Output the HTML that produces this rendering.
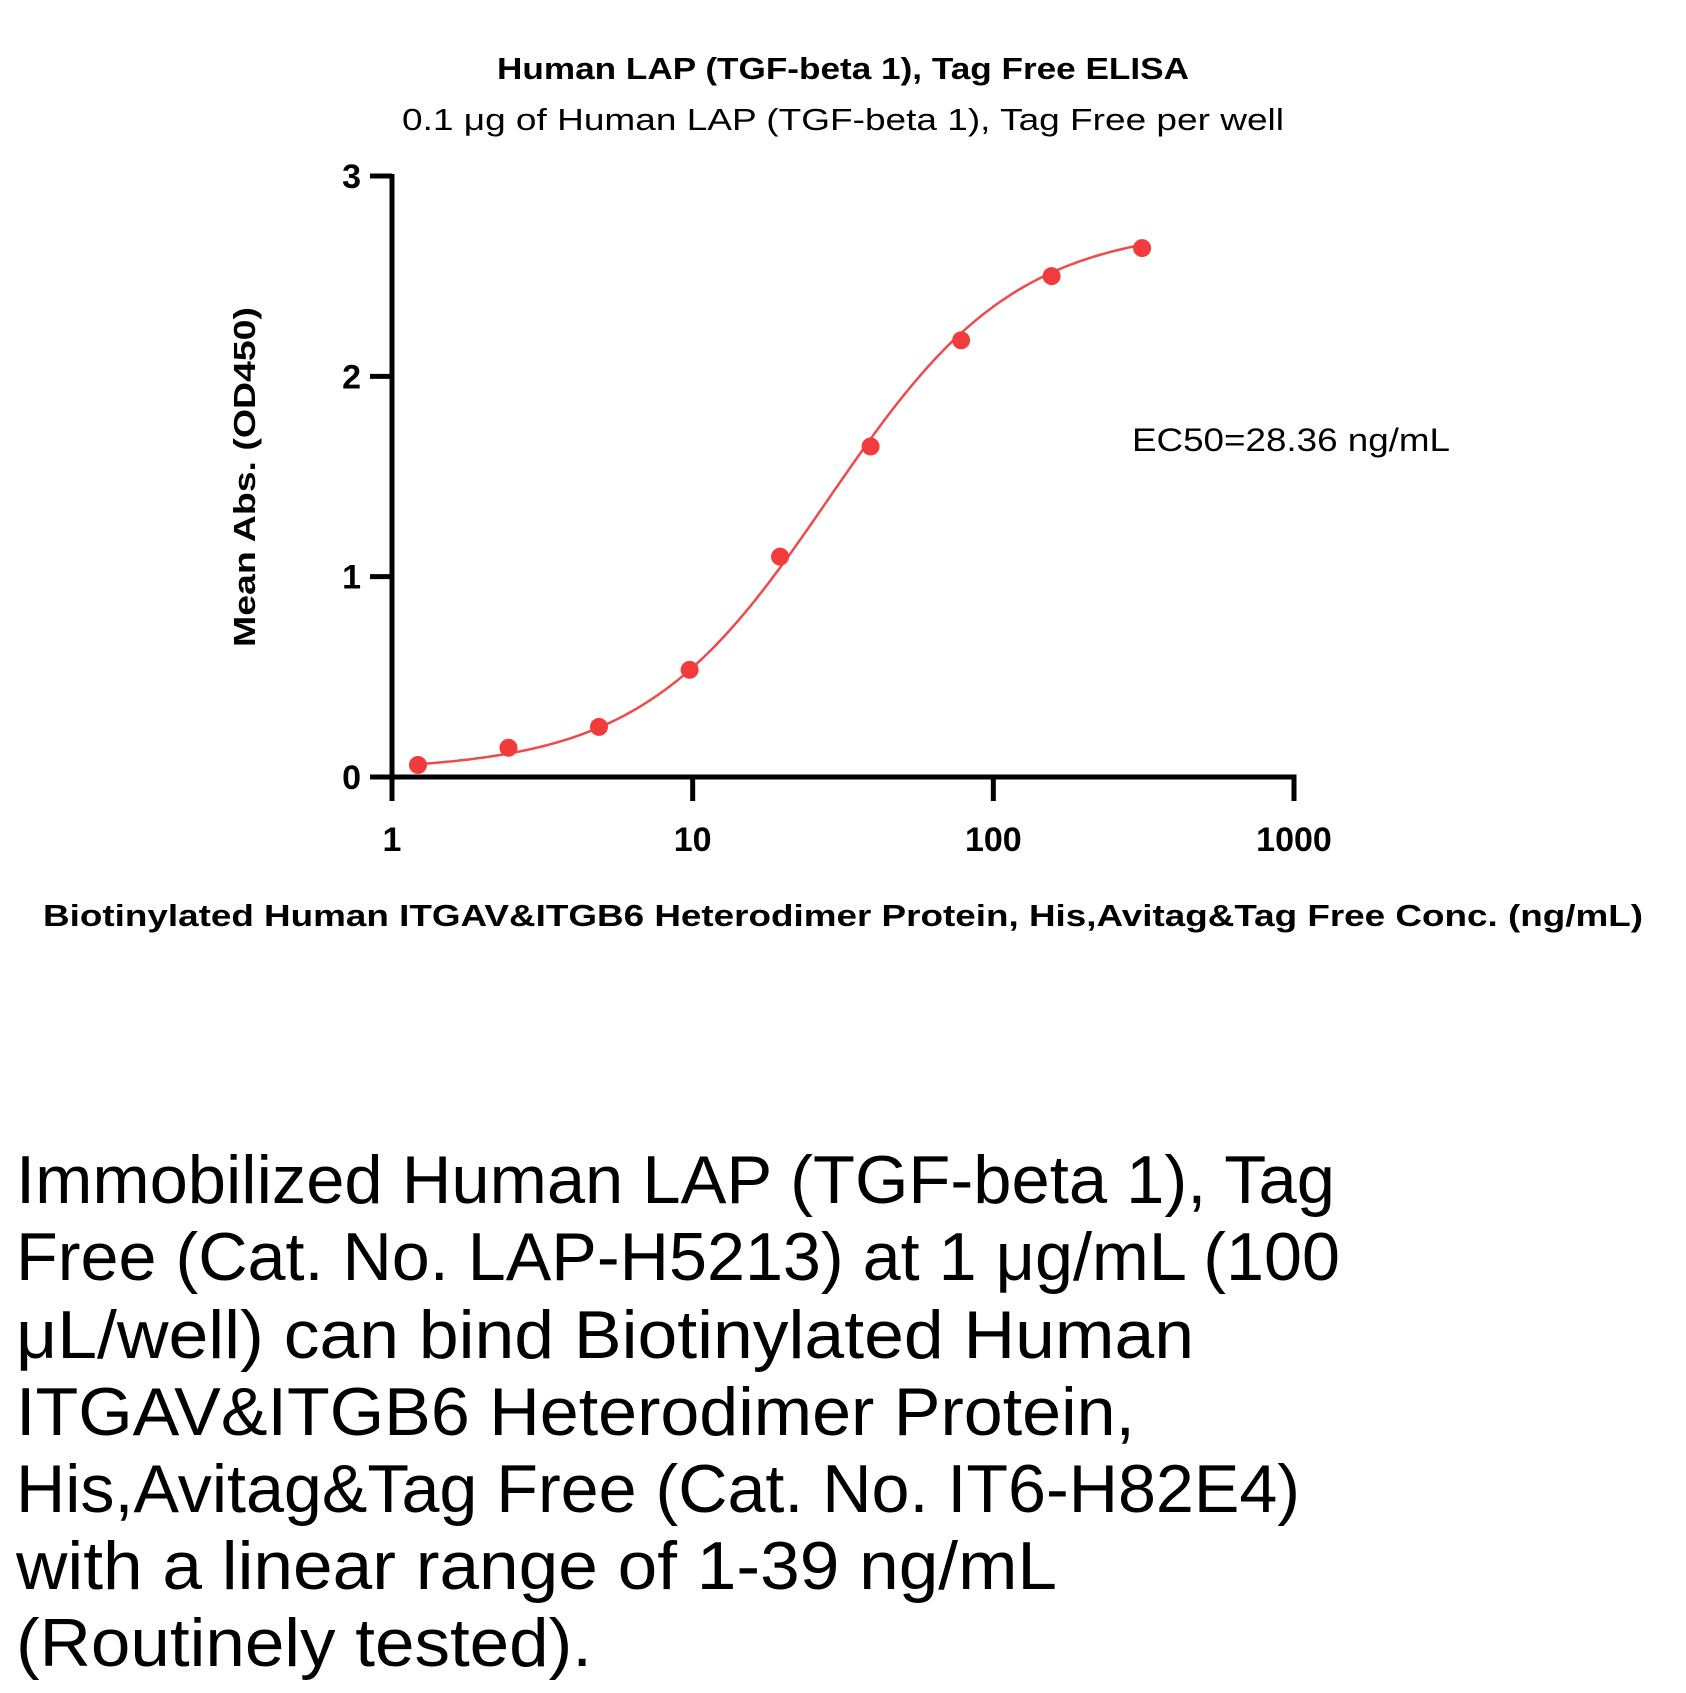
<!DOCTYPE html>
<html><head><meta charset="utf-8"><style>
html,body{margin:0;padding:0;background:#fff;}
svg{display:block;font-family:"Liberation Sans",sans-serif;}
</style></head><body>
<svg id="chart" width="1686" height="1693" viewBox="0 0 1686 1693">
<text x="843" y="79" text-anchor="middle" font-size="31" font-weight="bold" textLength="692" lengthAdjust="spacingAndGlyphs">Human LAP (TGF-beta 1), Tag Free ELISA</text>
<text x="843" y="130" text-anchor="middle" font-size="31" textLength="882" lengthAdjust="spacingAndGlyphs">0.1 μg of Human LAP (TGF-beta 1), Tag Free per well</text>
<text transform="translate(255,477) rotate(-90)" text-anchor="middle" font-size="31" font-weight="bold" textLength="340" lengthAdjust="spacingAndGlyphs">Mean Abs. (OD450)</text>
<text x="843" y="926" text-anchor="middle" font-size="31" font-weight="bold" textLength="1600" lengthAdjust="spacingAndGlyphs">Biotinylated Human ITGAV&amp;ITGB6 Heterodimer Protein, His,Avitag&amp;Tag Free Conc. (ng/mL)</text>
<text x="1132" y="451" font-size="32" textLength="318" lengthAdjust="spacingAndGlyphs">EC50=28.36 ng/mL</text>
<g id="axes"></g>
<g id="curve"></g>
<g id="points"></g>
<g font-size="68">
<text x="16" y="1203" textLength="1319" lengthAdjust="spacingAndGlyphs">Immobilized Human LAP (TGF-beta 1), Tag</text>
<text x="16" y="1280" textLength="1324" lengthAdjust="spacingAndGlyphs">Free (Cat. No. LAP-H5213) at 1 μg/mL (100</text>
<text x="16" y="1358" textLength="1178" lengthAdjust="spacingAndGlyphs">μL/well) can bind Biotinylated Human</text>
<text x="16" y="1435" textLength="1119" lengthAdjust="spacingAndGlyphs">ITGAV&amp;ITGB6 Heterodimer Protein,</text>
<text x="16" y="1512" textLength="1284" lengthAdjust="spacingAndGlyphs">His,Avitag&amp;Tag Free (Cat. No. IT6-H82E4)</text>
<text x="16" y="1589" textLength="1041" lengthAdjust="spacingAndGlyphs">with a linear range of 1-39 ng/mL</text>
<text x="16" y="1666" textLength="576" lengthAdjust="spacingAndGlyphs">(Routinely tested).</text>
</g>
</svg>
<script>
const concentrations = [1.22, 2.44, 4.88, 9.77, 19.53, 39.06, 78.13, 156.25, 312.5];
const absorbances = [0.06, 0.146, 0.25, 0.535, 1.10, 1.65, 2.18, 2.50, 2.64];
const fitParams = [0.03, 2.75, 28.36, 1.39]; // bottom, top, EC50, hill
const xTicks = [1, 10, 100, 1000];
const xTickLabels = ["1", "10", "100", "1000"];
const yTicks = [0, 1, 2, 3];
const yTickLabels = ["0", "1", "2", "3"];

const NS = "http://www.w3.org/2000/svg";
const X0 = 392, X1 = 1294, Y0 = 777, Y1 = 176;
const xScale = v => X0 + Math.log10(v) / 3 * (X1 - X0);
const yScale = v => Y0 - v / 3 * (Y0 - Y1);
function mk(tag, attrs, parent) {
  const e = document.createElementNS(NS, tag);
  for (const k in attrs) e.setAttribute(k, attrs[k]);
  parent.appendChild(e);
  return e;
}
const axes = document.getElementById("axes");
const ya = mk("line", {x1: X0, y1: Y1 - 2, x2: X0, y2: Y0 + 24, stroke: "#000", "stroke-width": 5}, axes);


const xa = mk("line", {x1: X0 - 22, y1: Y0, x2: X1 + 2.5, y2: Y0, stroke: "#000", "stroke-width": 5}, axes);


yTicks.forEach((t, i) => {
  const y = yScale(t);
  const tk = mk("line", {x1: X0 - 22, y1: y, x2: X0, y2: y, stroke: "#000", "stroke-width": 5}, axes);
  
  
  const lb = mk("text", {x: 361, y: y + 12, "text-anchor": "end", "font-size": 34, "font-weight": "bold"}, axes);
  lb.textContent = yTickLabels[i];
  
  
});
xTicks.forEach((t, i) => {
  const x = xScale(t);
  const tk = mk("line", {x1: x, y1: Y0, x2: x, y2: Y0 + 24, stroke: "#000", "stroke-width": 5}, axes);
  
  
  const lb = mk("text", {x: x, y: 851, "text-anchor": "middle", "font-size": 34, "font-weight": "bold"}, axes);
  lb.textContent = xTickLabels[i];
  
  
});
const fitBottom = fitParams[0], fitTop = fitParams[1], fitEc50 = fitParams[2], fitHill = fitParams[3];
const fitFn = x => fitBottom + (fitTop - fitBottom) / (1 + Math.pow(fitEc50 / x, fitHill));
const logLo = Math.log10(concentrations[0]), logHi = Math.log10(concentrations[concentrations.length - 1]);
let pathD = "";
for (let i = 0; i <= 200; i++) {
  const x = Math.pow(10, logLo + (logHi - logLo) * i / 200);
  pathD += (i ? "L" : "M") + xScale(x).toFixed(2) + "," + yScale(fitFn(x)).toFixed(2);
}
const cv = mk("path", {d: pathD, fill: "none", stroke: "#ef4a4a", "stroke-width": 2.5}, document.getElementById("curve"));


const pts = document.getElementById("points");
concentrations.forEach((c, i) => {
  const p = mk("circle", {cx: xScale(c), cy: yScale(absorbances[i]), r: 9, fill: "#f03c3c"}, pts);
  
  
});
</script>
</body></html>
